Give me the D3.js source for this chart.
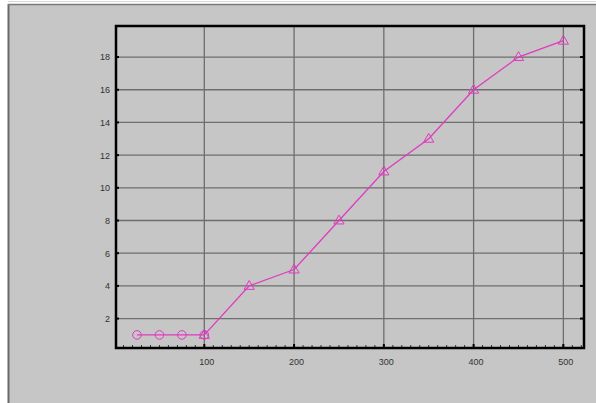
<!DOCTYPE html>
<html><head><meta charset="utf-8">
<script src="https://cdn.jsdelivr.net/npm/d3@7"></script>
<style>html,body{margin:0;padding:0;background:#fff;}svg{display:block;}</style>
</head><body>
<svg id="c" width="596" height="403"></svg>
<script>
const circleX = [25, 50, 75, 100];
const circleY = [1, 1, 1, 1];
const triX = [100, 150, 200, 250, 300, 350, 400, 450, 500];
const triY = [1, 4, 5, 8, 11, 13, 16, 18, 19];
const xTicks = [100, 200, 300, 400, 500];
const yTicks = [2, 4, 6, 8, 10, 12, 14, 16, 18];

const svg = d3.select("#c");
const W = 596, H = 403;
const L = 116, R = 584, T = 26, B = 348;
const x = d3.scaleLinear().domain([1.6, 523]).range([L, R]);
const y = d3.scaleLinear().domain([0.2, 19.9]).range([B, T]);

// outer frame
svg.append("rect").attr("x",0).attr("y",0).attr("width",W).attr("height",H).attr("fill","#ffffff");
svg.append("rect").attr("x",8).attr("y",4).attr("width",W-8).attr("height",H-4).attr("fill","#c6c6c6");
svg.append("line").attr("x1",8.5).attr("x2",8.5).attr("y1",4).attr("y2",H).attr("stroke","#6a6a6a").attr("stroke-width",2);
svg.append("line").attr("x1",8).attr("x2",W).attr("y1",4.5).attr("y2",4.5).attr("stroke","#7a7a7a").attr("stroke-width",1.5);
svg.append("line").attr("x1",8).attr("x2",W).attr("y1",1.5).attr("y2",1.5).attr("stroke","#d8d8d8").attr("stroke-width",1);

// grid
const g = svg.append("g");
g.selectAll("line.vg").data(xTicks).join("line")
  .attr("x1",d=>x(d)).attr("x2",d=>x(d)).attr("y1",T).attr("y2",B)
  .attr("stroke","#6e6e6e").attr("stroke-width",1.3);
g.selectAll("line.hg").data(yTicks).join("line")
  .attr("y1",d=>y(d)).attr("y2",d=>y(d)).attr("x1",L).attr("x2",R)
  .attr("stroke","#6e6e6e").attr("stroke-width",1.3);

// minor ticks on bottom
const minor = d3.range(10, 521, 10);
g.selectAll("line.mt").data(minor).join("line")
  .attr("x1",d=>x(d)).attr("x2",d=>x(d)).attr("y1",B).attr("y2",B-3)
  .attr("stroke","#333").attr("stroke-width",1);
// major tick marks on bottom and right
g.selectAll("line.Mt").data(xTicks).join("line")
  .attr("x1",d=>x(d)).attr("x2",d=>x(d)).attr("y1",B+1).attr("y2",B-4)
  .attr("stroke","#000").attr("stroke-width",2);
g.selectAll("line.Rt").data(yTicks).join("line")
  .attr("y1",d=>y(d)).attr("y2",d=>y(d)).attr("x1",R-4).attr("x2",R+1)
  .attr("stroke","#000").attr("stroke-width",2);
g.selectAll("line.Lt").data(yTicks).join("line")
  .attr("y1",d=>y(d)).attr("y2",d=>y(d)).attr("x1",L-1).attr("x2",L+3)
  .attr("stroke","#000").attr("stroke-width",2);

// frame
svg.append("rect").attr("x",L).attr("y",T).attr("width",R-L).attr("height",B-T)
  .attr("fill","none").attr("stroke","#000").attr("stroke-width",2.5);

// axes labels via d3 axes
const xAxis = d3.axisBottom(x).tickValues(xTicks).tickSize(0).tickPadding(11).tickFormat(d3.format("d"));
const xa = svg.append("g").attr("transform",`translate(0,${B})`).call(xAxis);
xa.select(".domain").remove();
xa.selectAll("text").attr("font-family","Arial, 'Liberation Sans', sans-serif").attr("font-size",9).attr("fill","#333").attr("dx",2);

const yAxis = d3.axisLeft(y).tickValues(yTicks).tickSize(0).tickPadding(6).tickFormat(d3.format("d"));
const ya = svg.append("g").attr("transform",`translate(${L},0)`).call(yAxis);
ya.select(".domain").remove();
ya.selectAll("text").attr("font-family","Arial, 'Liberation Sans', sans-serif").attr("font-size",9).attr("fill","#333");

// series
const col = "#e03ac0";
const circ = circleX.map((d,i)=>[d,circleY[i]]);
const tri = triX.map((d,i)=>[d,triY[i]]);
const line = d3.line().x(d=>x(d[0])).y(d=>y(d[1]));
svg.append("path").attr("d",line(circ)).attr("fill","none").attr("stroke",col).attr("stroke-width",1.3);
svg.append("path").attr("d",line(tri)).attr("fill","none").attr("stroke",col).attr("stroke-width",1.3);
svg.selectAll("circle.m").data(circ).join("circle")
  .attr("cx",d=>x(d[0])).attr("cy",d=>y(d[1])).attr("r",4.3)
  .attr("fill","none").attr("stroke",col).attr("stroke-width",1);
const triSym = d3.symbol().type(d3.symbolTriangle).size(45);
svg.selectAll("path.t").data(tri).join("path")
  .attr("transform",d=>`translate(${x(d[0])},${y(d[1])+0.5})`)
  .attr("d",triSym).attr("fill","none").attr("stroke",col).attr("stroke-width",1);
</script>
</body></html>
